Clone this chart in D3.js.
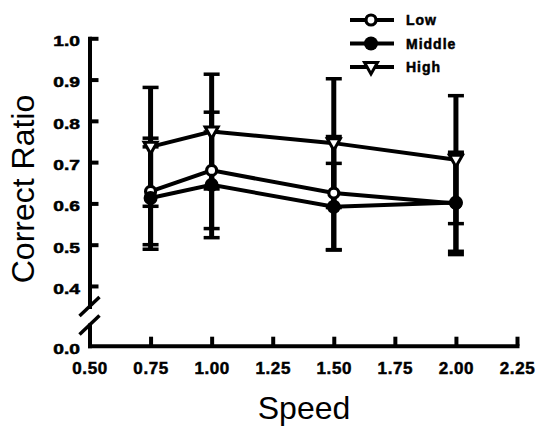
<!DOCTYPE html>
<meta charset="utf-8">
<style>
body { margin: 0; background: #fff; }
svg { font-family: "Liberation Sans", Arial, sans-serif; }
.series { fill: none; stroke: #000; stroke-width: 4px; }
.err { stroke: #000; stroke-width: 5px; }
.legend text { font-size: 14px; font-weight: bold; letter-spacing: 1px; stroke: #000; stroke-width: 0.5px; }
</style>
<svg width="537" height="427"></svg>
<script src="https://d3js.org/d3.v7.min.js"></script>
<script>

// data
var speeds = [0.75, 1.00, 1.50, 2.00];
var lowMean  = [0.629, 0.680, 0.625, 0.600];
var lowErr   = [0.129, 0.141, 0.137, 0.124];
var midMean  = [0.613, 0.645, 0.592, 0.602];
var midErr   = [0.124, 0.128, 0.105, 0.118];
var highMean = [0.737, 0.774, 0.746, 0.706];
var highErr  = [0.144, 0.139, 0.156, 0.155];
var xTicks = [0.50, 0.75, 1.00, 1.25, 1.50, 1.75, 2.00, 2.25];
var yTicks = [0.4, 0.5, 0.6, 0.7, 0.8, 0.9, 1.0];
var seriesNames = ["Low", "Middle", "High"];

var svg = d3.select("svg");

var x = d3.scaleLinear().domain([0.5, 2.25]).range([89.5, 517]);
// broken y axis: upper part and a short lower part for 0.0
var y = d3.scaleLinear().domain([0.35, 1.0]).range([306.6, 38.3]);
var y0 = d3.scaleLinear().domain([0, 0.05]).range([345.7, 325]);

var series = [
  {name: "Low", mean: lowMean, err: lowErr},
  {name: "Middle", mean: midMean, err: midErr},
  {name: "High", mean: highMean, err: highErr}
];

function marker(sel, name) {
  if (name == "Low") {
    sel.append("circle").attr("r", 5).attr("fill", "#fff")
      .attr("stroke", "#000").attr("stroke-width", 3.2);
  } else if (name == "Middle") {
    sel.append("circle").attr("r", 7).attr("fill", "#000");
  } else {
    sel.append("path")
      .attr("d", "M-6.5,-4.5L6.5,-4.5L0,7Z")
      .attr("fill", "#fff").attr("stroke", "#000").attr("stroke-width", 3)
      .attr("stroke-linejoin", "miter");
  }
}

function styleAxis(g, size) {
  g.selectAll("path, line")
    .style("stroke", "#000").style("stroke-width", "4px");
  g.select(".domain").style("stroke-linecap", "square");
  g.selectAll("text")
    .style("font-family", "'Liberation Sans', Arial, sans-serif")
    .style("font-weight", "bold").style("font-size", size)
    .style("fill", "#000").style("stroke", "#000").style("stroke-width", "0.5px");
}

// x axis
var xg = svg.append("g")
    .attr("transform", "translate(0," + y0(0) + ")")
    .call(d3.axisBottom(x).tickValues(xTicks).tickSize(-9).tickSizeOuter(0)
      .tickFormat(d3.format(".2f")));
styleAxis(xg, "17px");
xg.selectAll(".tick text").attr("y", 28).attr("dy", null)
    .style("letter-spacing", "0.6px");

// y axis, upper part
var yg = svg.append("g")
    .attr("transform", "translate(" + x(0.5) + ",0)")
    .call(d3.axisLeft(y).tickValues(yTicks).tickSize(-9).tickSizeOuter(0)
      .tickFormat(d3.format(".1f")));
styleAxis(yg, "14px");

// y axis, lower part
var yg0 = svg.append("g")
    .attr("transform", "translate(" + x(0.5) + ",0)")
    .call(d3.axisLeft(y0).tickValues([0]).tickSize(0).tickSizeOuter(0)
      .tickFormat(d3.format(".1f")));
styleAxis(yg0, "14px");

[yg, yg0].forEach(function(g) {
  g.selectAll(".tick text")
    .attr("x", -7).attr("dy", null).attr("y", 7.4)
    .attr("transform", "scale(1.37,1)");
});

// break marks
[y(0.35), y0(0.05)].forEach(function(cy) {
  svg.append("line")
    .attr("x1", x(0.5) - 10).attr("y1", cy + 9.5)
    .attr("x2", x(0.5) + 10).attr("y2", cy - 9.5)
    .attr("stroke", "#000").attr("stroke-width", 3.5);
});

// error bars
series.forEach(function(s) {
  var g = svg.append("g");
  speeds.forEach(function(sp, i) {
    var lo = s.mean[i] - s.err[i], hi = s.mean[i] + s.err[i];
    g.append("line").attr("class", "err")
      .attr("x1", x(sp)).attr("x2", x(sp)).attr("y1", y(lo)).attr("y2", y(hi));
    [lo, hi].forEach(function(v) {
      g.append("line").attr("class", "err").style("stroke-width", "3.5px")
        .attr("x1", x(sp) - 8).attr("x2", x(sp) + 8)
        .attr("y1", y(v)).attr("y2", y(v));
    });
  });
});

// lines
var line = d3.line()
    .x(function(d, i) { return x(speeds[i]); })
    .y(function(d) { return y(d); });

series.forEach(function(s) {
  svg.append("path").attr("class", "series").attr("d", line(s.mean));
});

// markers
series.forEach(function(s) {
  s.mean.forEach(function(v, i) {
    var g = svg.append("g").attr("transform", "translate(" + x(speeds[i]) + "," + y(v) + ")");
    marker(g, s.name);
  });
});

// legend
var legend = svg.append("g").attr("class", "legend");
seriesNames.forEach(function(n, i) {
  var ly = 20 + i * 23.5;
  legend.append("line").attr("x1", 350).attr("x2", 394)
    .attr("y1", ly).attr("y2", ly).attr("stroke", "#000").attr("stroke-width", 4);
  var g = legend.append("g").attr("transform", "translate(371," + ly + ")");
  marker(g, n);
  legend.append("text").attr("x", 406).attr("y", ly).attr("dy", "0.36em").text(n);
});

// axis titles
svg.append("text")
    .attr("x", 304).attr("y", 419)
    .attr("text-anchor", "middle")
    .style("font-size", "32px")
    .text("Speed");

svg.append("text")
    .attr("transform", "translate(34,189) rotate(-90)")
    .attr("text-anchor", "middle")
    .style("font-size", "32px")
    .text("Correct Ratio");

</script>
